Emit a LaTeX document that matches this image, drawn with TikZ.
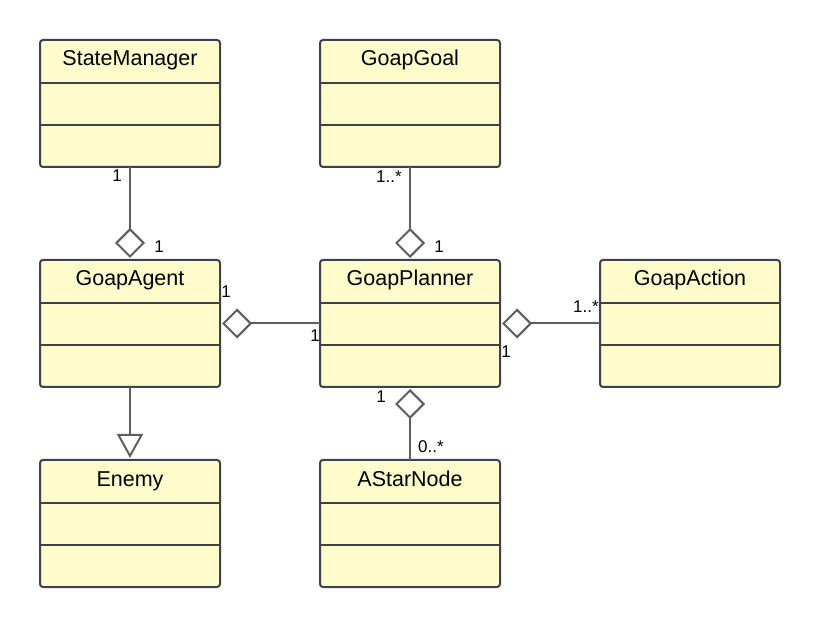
\documentclass[tikz,border=0pt]{standalone}
\usepackage{fontspec}
\setmainfont{Liberation Sans}
\usetikzlibrary{arrows.meta}

\definecolor{classfill}{HTML}{FFFCCC}
\definecolor{classdraw}{HTML}{3D424A}
\definecolor{linkgray}{HTML}{5E5E5E}

\tikzset{
  classbox/.style={draw=classdraw,fill=classfill,line width=2pt,
    rounded corners=3pt,minimum width=180pt,minimum height=127pt,
    inner sep=0pt,outer sep=0pt},
  classline/.style={draw=classdraw,line width=2pt},
  classtitle/.style={anchor=base,inner sep=0pt,font=\fontsize{21.5}{24}\selectfont},
  mult/.style={inner sep=0pt,font=\fontsize{17}{20}\selectfont},
  aggr/.style={draw=linkgray,line width=2pt,shorten <=2pt,
    {Diamond[open,length=30pt,width=30pt]}-},
  inherit/.style={draw=linkgray,line width=2pt,shorten >=2pt,
    -{Triangle[open,length=24pt,width=26pt]}},
}

% class box: name, top left corner, title
\newcommand{\umlclass}[3]{%
  \node[classbox,anchor=north west] (#1) at (#2) {};
  \draw[classline] ([yshift=-43pt]#1.north west) -- ([yshift=-43pt]#1.north east);
  \draw[classline] ([yshift=-85pt]#1.north west) -- ([yshift=-85pt]#1.north east);
  \node[classtitle] (#1Title) at ([yshift=-26pt]#1.north) {#3};
}

\begin{document}
\begin{tikzpicture}[x=1pt,y=-1pt]
        \useasboundingbox (0,0) rectangle (820,628) ;
        %\draw[very thin,gray,step=20] (0,0) grid (820,628) ;
        \umlclass{StateManager}{40,40}{StateManager}
        \umlclass{GoapGoal}{320,40}{GoapGoal}
        \umlclass{GoapAgent}{40,260}{GoapAgent}
        \umlclass{GoapPlanner}{320,260}{GoapPlanner}
        \umlclass{GoapAction}{600,260}{GoapAction}
        \umlclass{Enemy}{40,460}{Enemy}
        \umlclass{AStarNode}{320,460}{AStarNode}
        % aggregations
        \draw[aggr] (GoapAgent.north) -- (StateManager.south) ;
        \draw[aggr] (GoapPlanner.north) -- (GoapGoal.south) ;
        \draw[aggr] (GoapAgent.east) -- (GoapPlanner.west) ;
        \draw[aggr] (GoapPlanner.east) -- (GoapAction.west) ;
        \draw[aggr] (GoapPlanner.south) -- (AStarNode.north) ;
        % generalisation
        \draw[inherit] (GoapAgent.south) -- (Enemy.north) ;
        % multiplicities
        \node[mult] (smMult) at ([xshift=-13pt,yshift=-9pt]StateManager.south) {1} ;
        \node[mult] (agTopMult) at ([xshift=29pt,yshift=13pt]GoapAgent.north) {1} ;
        \node[mult] (agRightMult) at ([xshift=6pt,yshift=31.5pt]GoapAgent.east) {1} ;
        \node[mult] (plLeftMult) at ([xshift=-5pt,yshift=-12.5pt]GoapPlanner.west) {1} ;
        \node[mult] (goalMult) at ([xshift=-21pt,yshift=-10pt]GoapGoal.south) {1..*} ;
        \node[mult] (plTopMult) at ([xshift=29pt,yshift=13pt]GoapPlanner.north) {1} ;
        \node[mult] (actMult) at ([xshift=-14pt,yshift=16.5pt]GoapAction.west) {1..*} ;
        \node[mult] (plRightMult) at ([xshift=6pt,yshift=-28.5pt]GoapPlanner.east) {1} ;
        \node[mult] (plBottomMult) at ([xshift=-29pt,yshift=-10pt]GoapPlanner.south) {1} ;
        \node[mult] (nodeMult) at ([xshift=21pt,yshift=13pt]AStarNode.north) {0..*} ;
      \end{tikzpicture}
\end{document}
